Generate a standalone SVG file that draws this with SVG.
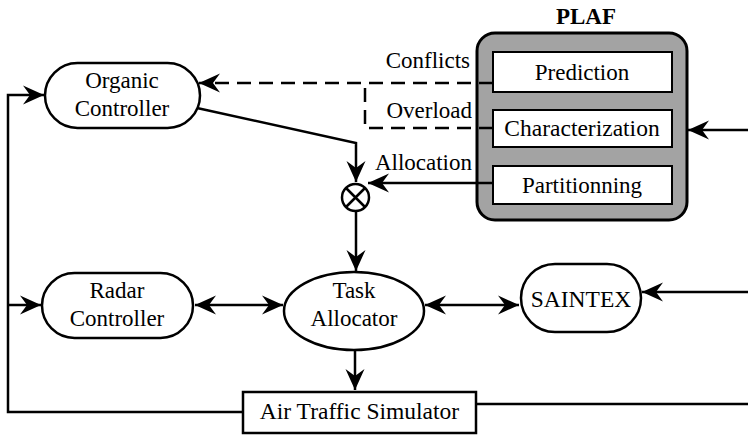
<svg xmlns="http://www.w3.org/2000/svg" width="748" height="435" viewBox="0 0 748 435">
<style>
text{font-family:"Liberation Serif","Times New Roman",serif;font-size:23px;fill:#000;text-anchor:middle}
.lbl{text-anchor:end}
.big{font-size:23.5px}
.node{fill:#fff;stroke:#000;stroke-width:2.5}
.in{fill:#fff;stroke:#000;stroke-width:2}
.c{fill:none;stroke:#000;stroke-width:2.5}
.d{fill:none;stroke:#000;stroke-width:2.5;stroke-dasharray:14 8}
.a{marker-end:url(#ah)}
.b{marker-start:url(#ah);marker-end:url(#ah)}
</style>
<defs>
<marker id="ah" markerUnits="userSpaceOnUse" markerWidth="24" markerHeight="22" viewBox="-22 -11 24 22" refX="0" refY="0" orient="auto-start-reverse">
<path d="M0,0 L-21,-9.5 L-14,0 L-21,9.5 Z" fill="#000"/>
</marker>
</defs>

<g id="plaf">
<text x="586" y="24" style="font-weight:bold;font-size:23px">PLAF</text>
<rect x="477" y="33" width="210" height="187" rx="18" fill="#a3a3a3" stroke="#000" stroke-width="3"/>
<g id="prediction"><rect class="in" x="493" y="52" width="179" height="40"/><text x="582" y="80">Prediction</text></g>
<g id="characterization"><rect class="in" x="493" y="110" width="179" height="37"/><text class="big" x="582" y="136">Characterization</text></g>
<g id="partitionning"><rect class="in" x="493" y="166" width="179" height="38"/><text x="582" y="193">Partitionning</text></g>
</g>

<g id="organic"><rect class="node" x="45" y="63" width="155" height="65" rx="32.5"/><text x="122" y="88">Organic</text><text x="122" y="116">Controller</text></g>
<g id="radar"><rect class="node" x="42" y="273" width="151" height="65" rx="32.5"/><text x="117" y="298">Radar</text><text x="117" y="326">Controller</text></g>
<g id="task"><ellipse class="node" cx="354" cy="311" rx="70" ry="39"/><text x="354" y="298">Task</text><text x="354" y="326">Allocator</text></g>
<g id="saintex"><rect class="node" x="521" y="264" width="120" height="68" rx="34"/><text class="big" x="581" y="307">SAINTEX</text></g>
<g id="simulator"><rect class="node" x="243" y="392" width="233" height="41"/><text class="big" x="359.5" y="419">Air Traffic Simulator</text></g>
<g id="mult"><circle cx="355.5" cy="197.5" r="13.5" fill="#fff" stroke="#000" stroke-width="2.5"/><path d="M346,188 L365,207 M365,188 L346,207" stroke="#000" stroke-width="2.5"/></g>

<g id="connectors">
<path class="c a" d="M243,412 H8 V95 H44"/>
<path class="c a" d="M8,305 H41"/>
<path class="d a" d="M493,83 H199"/>
<path class="d" d="M493,128 H365 V88"/>
<path class="c a" d="M197,108 L356,143 V182"/>
<path class="c a" d="M493,183 H368"/>
<path class="c a" d="M356,211 V271"/>
<path class="c b" d="M195,305 H283"/>
<path class="c b" d="M425,305 H519"/>
<path class="c a" d="M355,350 V390"/>
<path class="c a" d="M748,130 H688"/>
<path class="c a" d="M748,292 H642"/>
<path class="c" d="M476,404 H748"/>
</g>

<g id="labels">
<text class="lbl" x="470" y="68">Conflicts</text>
<text class="lbl" x="472" y="118">Overload</text>
<text class="lbl" x="472" y="170">Allocation</text>
</g>
</svg>
